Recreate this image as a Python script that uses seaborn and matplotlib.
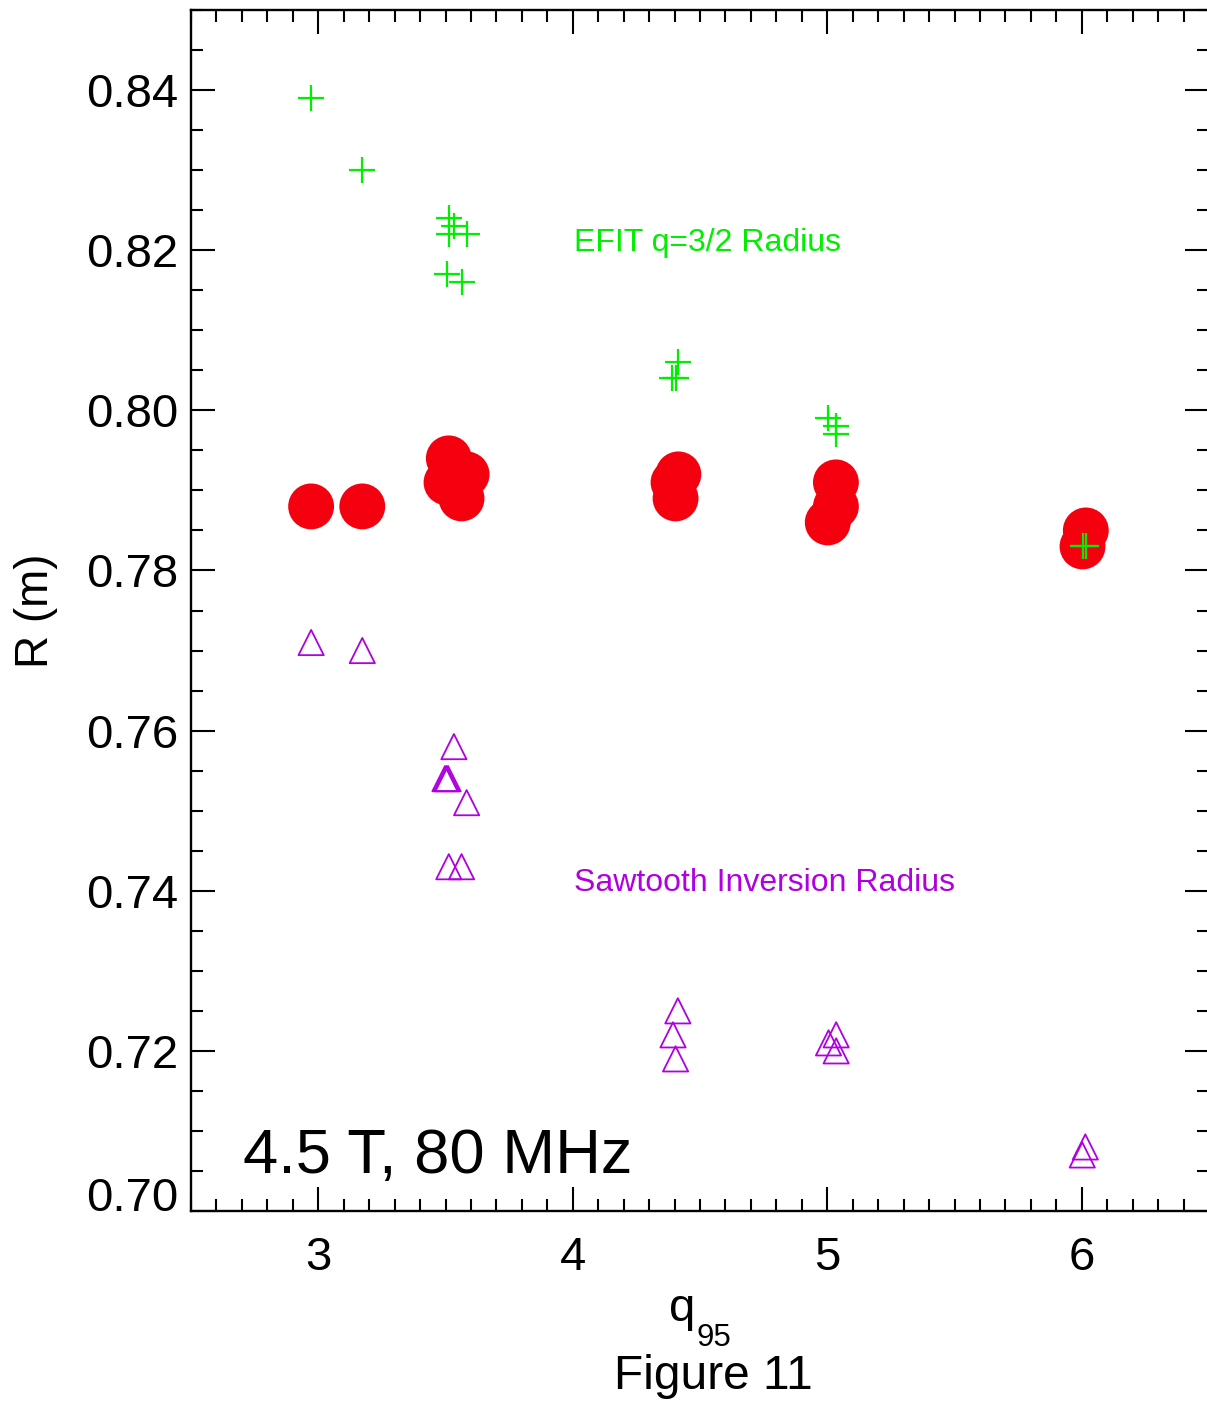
import matplotlib
matplotlib.use("Agg")
import matplotlib.pyplot as plt
from matplotlib.ticker import MultipleLocator, FixedLocator
import seaborn as sns
import pandas as pd

# ---- data ----
plus_x = [2.97, 3.17, 3.513, 3.533, 3.513, 3.583, 3.504, 3.563,
          4.413, 4.390, 4.404, 5.004, 5.035, 5.035, 6.004, 6.016]
plus_y = [0.839, 0.830, 0.824, 0.823, 0.822, 0.822, 0.817, 0.816,
          0.806, 0.804, 0.804, 0.799, 0.798, 0.797, 0.783, 0.783]

circ_x = [2.972, 3.173, 3.513, 3.583, 3.504, 3.563, 4.415, 4.396, 4.404,
          5.034, 5.034, 5.002, 6.016, 6.003]
circ_y = [0.788, 0.788, 0.794, 0.792, 0.791, 0.789, 0.792, 0.791, 0.789,
          0.791, 0.788, 0.786, 0.785, 0.783]

tri_x = [2.972, 3.173, 3.533, 3.498, 3.504, 3.510, 3.583, 3.513, 3.563,
         4.413, 4.394, 4.404, 5.035, 5.005, 5.035, 6.014, 6.002]
tri_y = [0.771, 0.770, 0.758, 0.754, 0.754, 0.754, 0.751, 0.743, 0.743,
         0.725, 0.722, 0.719, 0.722, 0.721, 0.720, 0.708, 0.707]

x_ticks = [3, 4, 5, 6]
y_ticks = [0.70, 0.72, 0.74, 0.76, 0.78, 0.80, 0.82, 0.84]
y_tick_labels = ["0.70", "0.72", "0.74", "0.76", "0.78", "0.80", "0.82", "0.84"]

GREEN = "#00ee00"
RED = "#f5000f"
PURPLE = "#b000e0"

sns.set_theme(style="ticks")
plt.rcParams["font.family"] = ["Liberation Sans", "DejaVu Sans"]
plt.rcParams["text.color"] = "black"
plt.rcParams["axes.labelcolor"] = "black"
plt.rcParams["xtick.color"] = "black"
plt.rcParams["ytick.color"] = "black"
plt.rcParams["xtick.labelcolor"] = "black"
plt.rcParams["ytick.labelcolor"] = "black"

W, H = 1207, 1401
fig = plt.figure(figsize=(W / 100, H / 100), dpi=100)
ax = fig.add_axes([191 / W, 1 - 1211 / H, (1209 - 191) / W, (1211 - 10) / H])

df_c = pd.DataFrame({"x": circ_x, "y": circ_y})
df_p = pd.DataFrame({"x": plus_x, "y": plus_y})
df_t = pd.DataFrame({"x": tri_x, "y": tri_y})

sns.scatterplot(data=df_c, x="x", y="y", ax=ax, marker="o", s=1090,
                color=RED, edgecolor="none", linewidth=0, zorder=2)
sns.scatterplot(data=df_p, x="x", y="y", ax=ax, marker="+", s=330,
                color=GREEN, linewidth=1.6, zorder=3)
sns.scatterplot(data=df_t, x="x", y="y", ax=ax, marker="^", s=330,
                facecolor="none", edgecolor=PURPLE, linewidth=1.3, zorder=3)

ax.set_xlim(2.5, 6.5)
ax.set_ylim(0.70, 0.85)
ax.xaxis.set_major_locator(FixedLocator(x_ticks))
ax.xaxis.set_minor_locator(MultipleLocator(0.1))
ax.yaxis.set_major_locator(FixedLocator(y_ticks))
ax.set_yticklabels(y_tick_labels)
ax.yaxis.set_minor_locator(MultipleLocator(0.005))
ax.set_xticklabels([str(v) for v in x_ticks])

for s in ax.spines.values():
    s.set_linewidth(1.7)
    s.set_color("black")

ax.tick_params(which="both", direction="in", top=True, right=True,
               color="black", width=1.5)
ax.tick_params(which="major", length=17)
ax.tick_params(which="minor", length=8.5)
ax.tick_params(axis="x", which="major", labelsize=34, pad=18)
ax.tick_params(axis="y", which="major", labelsize=34, pad=9)

# bottom y tick label sits on the axis line in the reference
fig.canvas.draw()
ylabs = ax.get_yticklabels()
ylabs[0].set_va("baseline")

ax.set_xlabel("")
ax.set_ylabel("R (m)", fontsize=33, labelpad=20)

ax.text(4.004, 0.8209, "EFIT q=3/2 Radius", color=GREEN, fontsize=23,
        ha="left", va="center")
ax.text(4.004, 0.7410, "Sawtooth Inversion Radius", color=PURPLE, fontsize=23,
        ha="left", va="center")
ax.text(2.705, 0.70475, "4.5 T, 80 MHz", color="black", fontsize=45.5,
        ha="left", va="baseline")

fig.text(669 / W, 1 - 1321 / H, "q", fontsize=34, ha="left", va="baseline")
fig.text(696 / W, 1 - 1346 / H, "95", fontsize=22.5, ha="left", va="baseline")
fig.text(713 / W, 1 - 1389 / H, "Figure 11", fontsize=34.5, ha="center",
         va="baseline")

fig.savefig("out.png", dpi=100)
